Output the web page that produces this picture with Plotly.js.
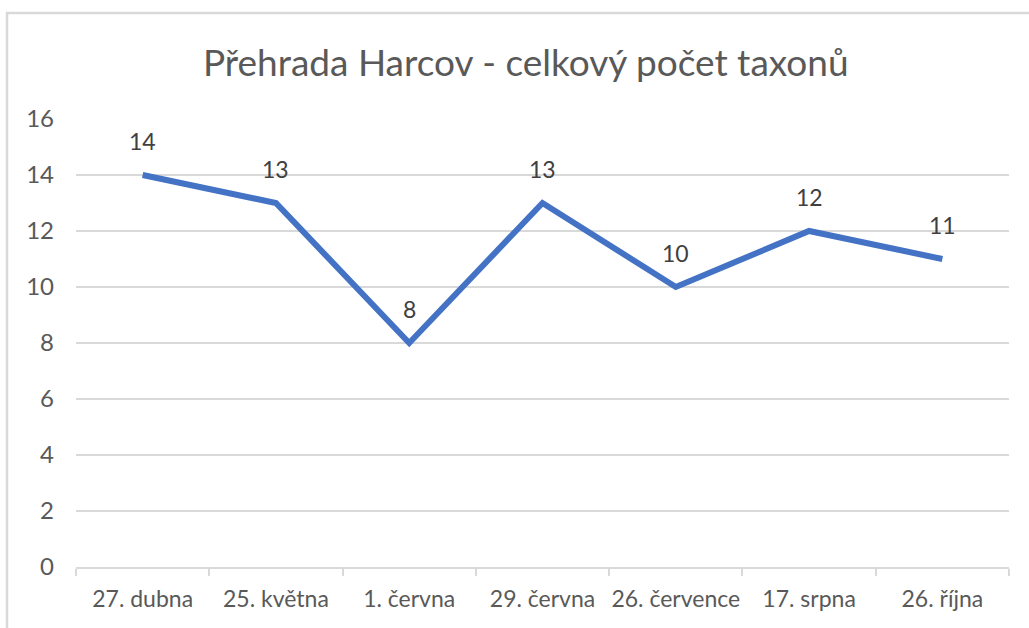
<!DOCTYPE html>
<html>
<head>
<meta charset="utf-8">
<script src="https://cdn.plot.ly/plotly-3.0.1.min.js"></script>
<style>
html,body{margin:0;padding:0;background:#fff;overflow:hidden;}
#chart{width:1029px;height:628px;}
</style>
</head>
<body>
<div id="chart"></div>
<script>
const categories = ["27. dubna", "25. května", "1. června", "29. června", "26. července", "17. srpna", "26. října"];
const taxonCounts = [14, 13, 8, 13, 10, 12, 11];
const yTickValues = [0, 2, 4, 6, 8, 10, 12, 14, 16];
const chartTitle = "Přehrada Harcov - celkový počet taxonů";

const FONT = "Lato, 'Open Sans', 'Liberation Sans', sans-serif";

const trace = {
  x: categories,
  y: taxonCounts,
  type: "scatter",
  mode: "lines",
  line: {color: "#4472C4", width: 6, shape: "linear"},
  hoverinfo: "skip"
};

const annotations = categories.map((c, i) => ({
  x: c, y: taxonCounts[i], xref: "x", yref: "y",
  text: String(taxonCounts[i]), showarrow: false,
  yshift: 34, font: {family: FONT, size: 23, color: "#404040"}
}));

const layout = {
  width: 1029, height: 628,
  paper_bgcolor: "#ffffff", plot_bgcolor: "#ffffff",
  margin: {l: 76, r: 20, t: 119, b: 61},
  showlegend: false,
  title: {
    text: chartTitle,
    font: {family: FONT, size: 37, color: "#595959"},
    x: 0.511, xref: "container", xanchor: "center",
    y: 0.9, yref: "container", yanchor: "middle"
  },
  xaxis: {
    type: "category",
    range: [-0.5, 6.5],
    showgrid: false,
    showline: true, linecolor: "#d9d9d9", linewidth: 2,
    ticks: "outside", tickson: "boundaries", ticklen: 7, tickcolor: "#d9d9d9", tickwidth: 2,
    tickfont: {family: FONT, size: 23, color: "#595959"},
    tickangle: 0, automargin: false,
    ticklabelstandoff: 10,
    zeroline: false, fixedrange: true
  },
  yaxis: {
    range: [0, 16],
    tickmode: "array", tickvals: yTickValues, ticktext: yTickValues.map(String),
    showgrid: true, gridcolor: "#d9d9d9", gridwidth: 1.5,
    showline: false, zeroline: false,
    ticks: "", tickfont: {family: FONT, size: 24, color: "#595959"},
    ticklabelstandoff: 21, fixedrange: true
  },
  annotations: annotations,
  shapes: [{
    type: "rect", xref: "paper", yref: "paper",
    x0: (7 - 76) / 933, x1: 1.2, y0: -0.5, y1: (567 - 13) / 448,
    line: {color: "#d9d9d9", width: 2.5}, fillcolor: "rgba(0,0,0,0)", layer: "below"
  }]
};

Plotly.newPlot("chart", [trace], layout, {displayModeBar: false, staticPlot: true});
</script>
</body>
</html>
